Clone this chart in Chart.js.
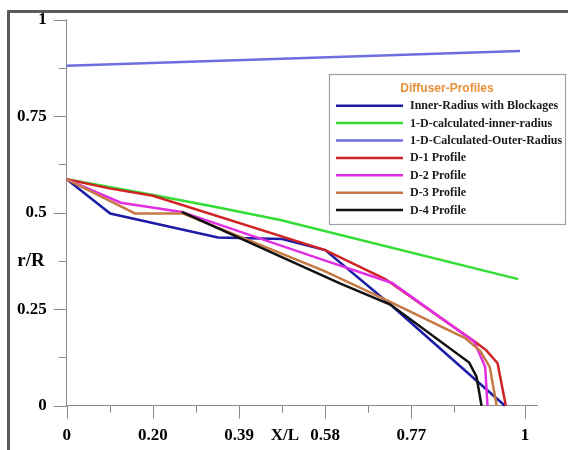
<!DOCTYPE html>
<html><head><meta charset="utf-8">
<script src="https://cdn.jsdelivr.net/npm/chart.js@4.4.0/dist/chart.umd.min.js"></script>
<style>
html,body{margin:0;padding:0;background:#fff;}
#wrap{position:relative;width:568px;height:450px;overflow:hidden;}
#frame{position:absolute;left:7px;top:10px;width:600px;height:500px;border-left:3px solid #5a5a5a;border-top:3px solid #5a5a5a;}
canvas{position:absolute;left:0;top:0;}
</style></head><body>
<div id="wrap"><div id="frame"></div><canvas id="c" width="568" height="450"></canvas></div>
<script>
// ---- data ----
const legendTitle = 'Diffuser-Profiles';
const seriesLabels = ['Inner-Radius with Blockages','1-D-calculated-inner-radius','1-D-Calculated-Outer-Radius','D-1 Profile','D-2 Profile','D-3 Profile','D-4 Profile'];

const innerBlockX = [0, 0.095, 0.33, 0.47, 0.564, 0.706, 0.956];
const innerBlockY = [0.5865, 0.498, 0.436, 0.432, 0.403, 0.262, 0];

const calcInnerX = [0, 0.18, 0.32, 0.466, 0.985];
const calcInnerY = [0.5865, 0.548, 0.516, 0.481, 0.328];

const calcOuterX = [0, 0.989];
const calcOuterY = [0.881, 0.919];

const d1X = [0, 0.093, 0.188, 0.564, 0.695, 0.89, 0.915, 0.94, 0.958];
const d1Y = [0.5865, 0.563, 0.544, 0.403, 0.328, 0.166, 0.144, 0.110, 0];

const d2X = [0, 0.118, 0.251, 0.564, 0.71, 0.889, 0.913, 0.918];
const d2Y = [0.5865, 0.526, 0.502, 0.376, 0.318, 0.166, 0.10, 0];

const d3X = [0, 0.149, 0.254, 0.564, 0.70, 0.869, 0.902, 0.923, 0.938];
const d3Y = [0.5865, 0.498, 0.498, 0.348, 0.272, 0.175, 0.142, 0.10, 0];

const d4X = [0.251, 0.596, 0.706, 0.878, 0.894, 0.905];
const d4Y = [0.502, 0.317, 0.262, 0.112, 0.075, 0];

const xTickValues = [0, 0.094, 0.188, 0.282, 0.376, 0.47, 0.564, 0.658, 0.752, 0.846, 1];
const xTickLabels = ['0', '', '0.20', '', '0.39', '', '0.58', '', '0.77', '', '1'];
const yTickValues = [0, 0.25, 0.5, 0.75, 1];
const yTickLabels = ['0', '0.25', '0.5', '0.75', '1'];
const yMinorTicks = [0.125, 0.375, 0.625, 0.875];

// ---- styles ----
const colors = ['#1c1ca6', '#35dc35', '#6e6ee0', '#d02424', '#e22ee2', '#c57a45', '#111111'];
const axisColor = '#8a8a8a';
const serif = '"Liberation Serif", "Times New Roman", serif';

const pts = (xs, ys) => xs.map((x, i) => ({x, y: ys[i]}));
const seriesData = [
  pts(innerBlockX, innerBlockY), pts(calcInnerX, calcInnerY), pts(calcOuterX, calcOuterY),
  pts(d1X, d1Y), pts(d2X, d2Y), pts(d3X, d3Y), pts(d4X, d4Y)
];

const datasets = seriesData.map((d, i) => ({
  label: seriesLabels[i], data: d, showLine: true, borderColor: colors[i], backgroundColor: colors[i],
  borderWidth: 2.5, pointRadius: 0, fill: false, tension: 0, clip: false, order: 10 - i
}));

const deco = {
  id: 'deco',
  afterDraw(chart) {
    const {ctx, chartArea: a, scales: {x, y}} = chart;
    ctx.save();
    ctx.strokeStyle = axisColor; ctx.lineWidth = 1;
    ctx.beginPath();
    xTickValues.forEach((v, i) => {
      const px = Math.round(x.getPixelForValue(v)) + 0.5;
      const len = xTickLabels[i] ? 13 : 7;
      ctx.moveTo(px, a.bottom); ctx.lineTo(px, a.bottom + len);
    });
    yTickValues.forEach(v => {
      const py = Math.round(y.getPixelForValue(v)) + 0.5;
      ctx.moveTo(a.left - 13, py); ctx.lineTo(a.left, py);
    });
    yMinorTicks.forEach(v => {
      const py = Math.round(y.getPixelForValue(v)) + 0.5;
      ctx.moveTo(a.left - 8, py); ctx.lineTo(a.left, py);
    });
    ctx.stroke();

    // axis titles
    ctx.fillStyle = '#000'; ctx.textAlign = 'center'; ctx.textBaseline = 'middle';
    ctx.font = 'bold 19px ' + serif;
    ctx.fillText('r/R', 31, y.getPixelForValue(0.375));
    ctx.font = 'bold 17px ' + serif;
    ctx.fillText('X/L', 285, 436);

    // legend box
    const lx = 329.5, ly = 74.5, lw = 236, lh = 150;
    ctx.fillStyle = '#fff'; ctx.fillRect(lx, ly, lw, lh);
    ctx.strokeStyle = '#a0a0a0'; ctx.lineWidth = 1.2; ctx.strokeRect(lx, ly, lw, lh);
    ctx.fillStyle = '#e8913a'; ctx.font = 'bold 12px "Liberation Sans", Arial, sans-serif';
    ctx.fillText(legendTitle, 447, 88.5);
    ctx.textAlign = 'left'; ctx.font = 'bold 12px ' + serif;
    chart.data.datasets.forEach((ds, i) => {
      const ry = 105.7 + i * 17.4;
      ctx.strokeStyle = ds.borderColor; ctx.lineWidth = 2.5;
      ctx.beginPath(); ctx.moveTo(336, ry); ctx.lineTo(403, ry); ctx.stroke();
      ctx.fillStyle = '#1a1a1a';
      ctx.fillText(ds.label, 410, ry + 0.5);
    });
    ctx.restore();
  }
};

new Chart(document.getElementById('c'), {
  type: 'scatter',
  data: {datasets},
  options: {
    responsive: false, animation: false, devicePixelRatio: 1,
    layout: {padding: {left: 0, top: 19.7, right: 31, bottom: 0}},
    plugins: {legend: {display: false}, tooltip: {enabled: false}, title: {display: false}},
    scales: {
      x: {
        type: 'linear', min: 0, max: 1.026,
        grid: {display: false}, border: {display: true, color: axisColor, width: 1},
        afterBuildTicks: s => { s.ticks = xTickValues.map(v => ({value: v})); },
        afterFit: s => { s.height = 44.3; s.paddingLeft = 0; s.paddingRight = 0; },
        ticks: {autoSkip: false, maxRotation: 0, padding: 12, color: '#000',
          font: {family: serif, weight: 'bold', size: 17},
          callback: (v, i) => xTickLabels[i]}
      },
      y: {
        type: 'linear', min: 0, max: 1,
        grid: {display: false}, border: {display: true, color: axisColor, width: 1},
        afterBuildTicks: s => { s.ticks = yTickValues.map(v => ({value: v})); },
        afterFit: s => { s.width = 66.7; s.paddingTop = 0; s.paddingBottom = 0; },
        ticks: {padding: 12, color: '#000',
          font: {family: serif, weight: 'bold', size: 17},
          callback: (v, i) => yTickLabels[i]}
      }
    }
  },
  plugins: [deco]
});
</script>
</body></html>
